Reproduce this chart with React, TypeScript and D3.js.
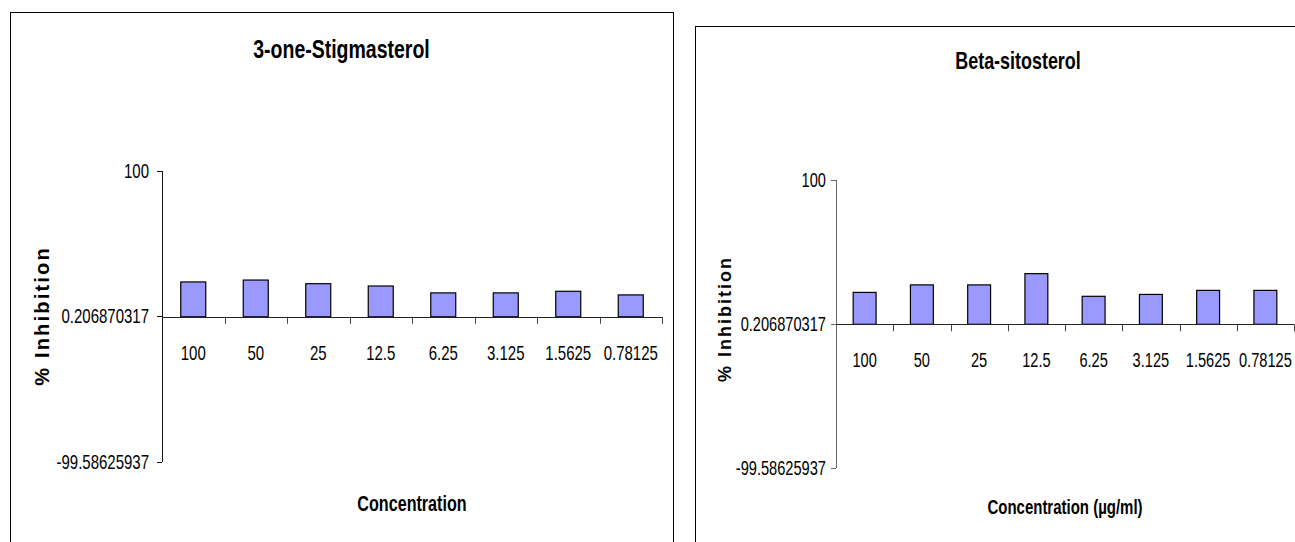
import React from "react";
import * as d3 from "d3";

const categories = ["100", "50", "25", "12.5", "6.25", "3.125", "1.5625", "0.78125"];
const stigmasterolValues = [23.9, 25.2, 22.7, 21.1, 16.4, 16.4, 17.5, 15.0];
const sitosterolValues = [22.1, 27.3, 27.3, 35.1, 19.4, 20.7, 23.5, 23.5];
const yTickValues = [-99.58625937, 0.206870317, 100];
const yTickLabels = ["-99.58625937", "0.206870317", "100"];

const SANS = "'Liberation Sans', Arial, sans-serif";

type NTextProps = {
  x: number;
  y: number;
  size: number;
  sx: number;
  anchor?: "start" | "middle" | "end";
  bold?: boolean;
  children: React.ReactNode;
};

function NText({ x, y, size, sx, anchor = "middle", bold = false, children }: NTextProps) {
  return (
    <text
      transform={`translate(${x},${y}) scale(${sx},1)`}
      textAnchor={anchor}
      dominantBaseline="central"
      fontFamily={SANS}
      fontWeight={bold ? "bold" : "normal"}
      fontSize={size}
      fill="#000"
    >
      {children}
    </text>
  );
}

type ChartProps = {
  title: string;
  xTitle: string;
  values: number[];
  frame: { x: number; y: number; w: number; h: number };
  axisX: number;
  axisEnd: number;
  yTop: number;
  yBottom: number;
  titleY: number;
  titleSize: number;
  xTitleY: number;
  xTitleSize: number;
  tickSize: number;
  tickGap: number;
  xLabelOffset: number;
  yTitleX: number;
  yTitleY: number;
  yTitleSize: number;
  yTitleSpacing: number;
  axisColor: string;
};

function Chart(p: ChartProps) {
  const x = d3
    .scaleBand<string>()
    .domain(categories)
    .range([p.axisX, p.axisEnd])
    .paddingInner(0.6)
    .paddingOuter(0.3);
  const xb = d3.scaleBand<string>().domain(categories).range([p.axisX, p.axisEnd]);
  const y = d3.scaleLinear().domain([-99.58625937, 100]).range([p.yBottom, p.yTop]);
  const y0 = y(0);
  const fx = p.frame.x + p.frame.w / 2;
  const plotCx = (p.axisX + p.axisEnd) / 2;
  return (
    <g>
      <rect
        x={p.frame.x + 0.5}
        y={p.frame.y + 0.5}
        width={p.frame.w}
        height={p.frame.h}
        fill="#fff"
        stroke="#000"
        strokeWidth={1}
      />
      <NText x={fx} y={p.titleY} size={p.titleSize} sx={0.78} bold>
        {p.title}
      </NText>
      {p.values.map((v, i) => (
        <rect
          key={i}
          x={x(categories[i])!}
          y={y(v)}
          width={x.bandwidth()}
          height={y0 - y(v)}
          fill="#9999FF"
          stroke="#000"
          strokeWidth={1.2}
        />
      ))}
      <line
        x1={p.axisX + 0.5}
        x2={p.axisX + 0.5}
        y1={p.yTop}
        y2={p.yBottom}
        stroke={p.axisColor}
        strokeWidth={1}
      />
      {yTickValues.map((t, i) => (
        <g key={i}>
          <line
            x1={p.axisX - 5}
            x2={p.axisX}
            y1={Math.round(y(t)) + 0.5}
            y2={Math.round(y(t)) + 0.5}
            stroke={p.axisColor}
          />
          <NText x={p.axisX - p.tickGap} y={y(t)} size={p.tickSize} sx={0.75} anchor="end">
            {yTickLabels[i]}
          </NText>
        </g>
      ))}
      <line
        x1={p.axisX}
        x2={p.axisEnd}
        y1={Math.round(y0) + 0.5}
        y2={Math.round(y0) + 0.5}
        stroke="#222"
      />
      {categories.map((c) => (
        <g key={c}>
          <line
            x1={Math.round(xb(c)! + xb.bandwidth()) + 0.5}
            x2={Math.round(xb(c)! + xb.bandwidth()) + 0.5}
            y1={y0}
            y2={y0 + 7}
            stroke="#444"
          />
          <NText x={xb(c)! + xb.bandwidth() / 2} y={y0 + p.xLabelOffset} size={p.tickSize} sx={0.75}>
            {c}
          </NText>
        </g>
      ))}
      <NText x={plotCx} y={p.xTitleY} size={p.xTitleSize} sx={0.75} bold>
        {p.xTitle}
      </NText>
      <text
        transform={`translate(${p.yTitleX},${p.yTitleY}) rotate(-90)`}
        textAnchor="middle"
        dominantBaseline="central"
        fontFamily={SANS}
        fontWeight="bold"
        fontSize={p.yTitleSize}
        letterSpacing={p.yTitleSpacing}
      >
        % Inhibition
      </text>
    </g>
  );
}

export default function App() {
  return (
    <svg width={1295} height={542} style={{ position: "absolute", left: 0, top: 0, background: "#fff" }}>
      <Chart
        title="3-one-Stigmasterol"
        xTitle="Concentration"
        values={stigmasterolValues}
        frame={{ x: 10, y: 12, w: 663, h: 600 }}
        axisX={162}
        axisEnd={662}
        yTop={171}
        yBottom={462}
        titleY={50}
        titleSize={25}
        xTitleY={504}
        xTitleSize={21.5}
        tickSize={20}
        tickGap={13}
        xLabelOffset={36}
        yTitleX={42}
        yTitleY={316}
        yTitleSize={20}
        yTitleSpacing={2.2}
        axisColor="#111"
      />
      <Chart
        title="Beta-sitosterol"
        xTitle="Concentration (µg/ml)"
        values={sitosterolValues}
        frame={{ x: 695, y: 26, w: 646, h: 600 }}
        axisX={836}
        axisEnd={1294}
        yTop={180}
        yBottom={468}
        titleY={61}
        titleSize={23}
        xTitleY={507}
        xTitleSize={20}
        tickSize={19.5}
        tickGap={10}
        xLabelOffset={35.5}
        yTitleX={725}
        yTitleY={319}
        yTitleSize={18}
        yTitleSpacing={2}
        axisColor="#666"
      />
    </svg>
  );
}
